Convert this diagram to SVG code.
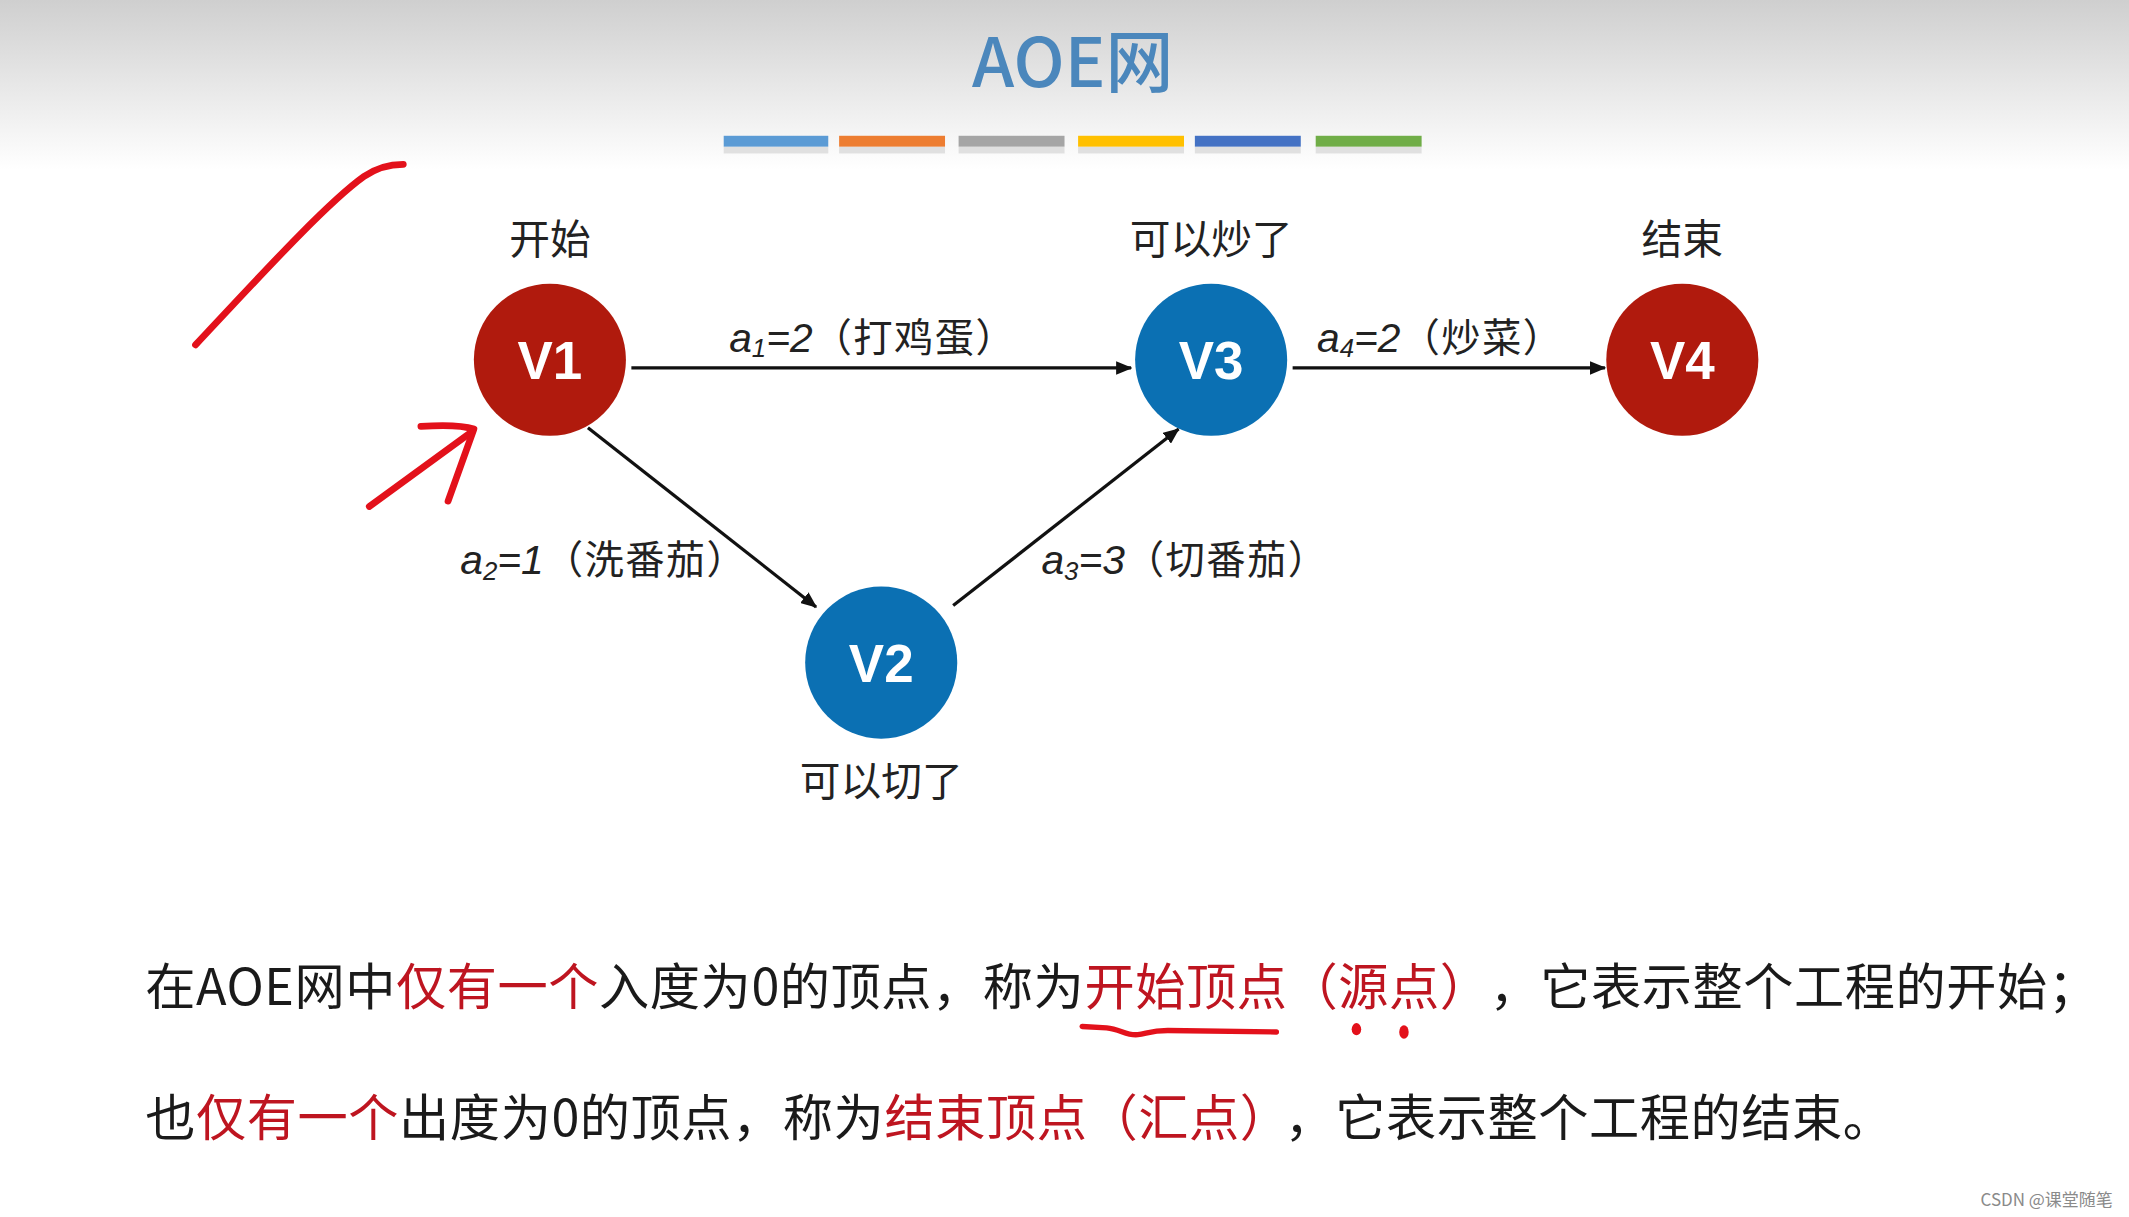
<svg xmlns="http://www.w3.org/2000/svg" width="2129" height="1217" viewBox="0 0 2129 1217">
<style>
.cjk{font-family:"Noto Sans CJK SC","Noto Sans",sans-serif;}
.lbl{font-family:"Noto Sans CJK SC","Noto Sans",sans-serif;font-size:30px;fill:#222;text-anchor:middle;}
.vt{font-family:"Liberation Sans","Noto Sans",sans-serif;font-size:39px;font-weight:bold;fill:#fff;text-anchor:middle;}
.el{font-family:"Liberation Sans","Noto Sans CJK SC",sans-serif;font-size:30px;fill:#222;}
.it{font-style:italic;}
.sub{font-size:19px;font-style:italic;}
.zh{font-family:"Noto Sans CJK SC",sans-serif;font-style:normal;font-size:29px;letter-spacing:1px;}
.edge{stroke:#111;stroke-width:2.4;fill:none;marker-end:url(#arr);}
.red{fill:#b01a0d;}
.blue{fill:#0b70b3;}
.body{font-family:"Noto Sans CJK SC","Noto Sans",sans-serif;font-size:37px;fill:#1a1a1a;letter-spacing:0.4px;}
.r{fill:#be1520;}
.pen{stroke:#e3111b;fill:none;stroke-linecap:round;stroke-linejoin:round;}
</style>
<defs>
<linearGradient id="hdr" x1="0" y1="0" x2="0" y2="1">
<stop offset="0" stop-color="#cfcfcf"/>
<stop offset="0.6" stop-color="#ececec"/>
<stop offset="1" stop-color="#ffffff"/>
</linearGradient>
<marker id="arr" viewBox="0 0 12 10" refX="11" refY="5" markerWidth="12" markerHeight="10" markerUnits="userSpaceOnUse" orient="auto">
<path d="M0,0 L12,5 L0,10 z" fill="#111"/>
</marker>
</defs>
<rect width="2129" height="1217" fill="#fff"/>
<g transform="scale(1.3578)">
<rect x="0" y="0" width="1568" height="125" fill="url(#hdr)"/>
<text x="790" y="64" class="cjk" font-size="50" font-weight="500" fill="#4b87bc" text-anchor="middle">AOE网</text>
<g id="bars">
<rect x="533" y="108" width="77" height="5" fill="#cfcfcf" opacity="0.6"/>
<rect x="618" y="108" width="78" height="5" fill="#cfcfcf" opacity="0.6"/>
<rect x="706" y="108" width="78" height="5" fill="#cfcfcf" opacity="0.6"/>
<rect x="794" y="108" width="78" height="5" fill="#cfcfcf" opacity="0.6"/>
<rect x="880" y="108" width="78" height="5" fill="#cfcfcf" opacity="0.6"/>
<rect x="969" y="108" width="78" height="5" fill="#cfcfcf" opacity="0.6"/>
<rect x="533" y="100" width="77" height="8" fill="#5b9bd5"/>
<rect x="618" y="100" width="78" height="8" fill="#ed7d31"/>
<rect x="706" y="100" width="78" height="8" fill="#a5a5a5"/>
<rect x="794" y="100" width="78" height="8" fill="#ffc000"/>
<rect x="880" y="100" width="78" height="8" fill="#4472c4"/>
<rect x="969" y="100" width="78" height="8" fill="#70ad47"/>
</g>
<g id="connectors">
<line class="edge" x1="465" y1="271" x2="833" y2="271"/>
<line class="edge" x1="952" y1="271" x2="1182" y2="271"/>
<line class="edge" x1="433" y1="315" x2="601" y2="447"/>
<line class="edge" x1="702" y1="446" x2="868" y2="316"/>
<text class="el" x="537" y="259"><tspan class="it">a</tspan><tspan class="sub" dy="4">1</tspan><tspan class="it" dy="-4">=2</tspan><tspan class="zh">（打鸡蛋）</tspan></text>
<text class="el" x="970" y="259"><tspan class="it">a</tspan><tspan class="sub" dy="4">4</tspan><tspan class="it" dy="-4">=2</tspan><tspan class="zh">（炒菜）</tspan></text>
<text class="el" x="339" y="423"><tspan class="it">a</tspan><tspan class="sub" dy="4">2</tspan><tspan class="it" dy="-4">=1</tspan><tspan class="zh">（洗番茄）</tspan></text>
<text class="el" x="767" y="423"><tspan class="it">a</tspan><tspan class="sub" dy="4">3</tspan><tspan class="it" dy="-4">=3</tspan><tspan class="zh">（切番茄）</tspan></text>
</g>
<g id="V1">
<circle class="red" cx="405" cy="265" r="56"/>
<text class="vt" x="405" y="279">V1</text>
<text class="lbl" x="405" y="187">开始</text>
</g>
<g id="V2">
<circle class="blue" cx="649" cy="488" r="56"/>
<text class="vt" x="649" y="502">V2</text>
<text class="lbl" x="649" y="586">可以切了</text>
</g>
<g id="V3">
<circle class="blue" cx="892" cy="265" r="56"/>
<text class="vt" x="892" y="279">V3</text>
<text class="lbl" x="892" y="187">可以炒了</text>
</g>
<g id="V4">
<circle class="red" cx="1239" cy="265" r="56"/>
<text class="vt" x="1239" y="279">V4</text>
<text class="lbl" x="1239" y="187">结束</text>
</g>
<g id="ink">
<path class="pen" stroke-width="5" d="M144,254 C190,205 240,150 268,130 C278,123 288,121 297,121"/>
<path class="pen" stroke-width="5" d="M272,373 L346,319"/>
<path class="pen" stroke-width="5" d="M310,314 C325,313 340,313 349,316 L330,369"/>
<path class="pen" stroke-width="4" d="M797,756 L815,757 C825,758 830,763 838,762 C845,761 848,759 860,759 L940,760"/>
<ellipse cx="999" cy="758" rx="3.5" ry="4.5" fill="#e3111b"/>
<ellipse cx="1034" cy="760" rx="3.5" ry="5" fill="#e3111b"/>
</g>
<text class="body" x="107" y="740">在AOE网中<tspan class="r">仅有一个</tspan>入度为0的顶点，称为<tspan class="r">开始顶点（源点）</tspan></text>
<text class="body" x="1097" y="740">，它表示整个工程的开始；</text>
<text class="body" x="107" y="837">也<tspan class="r">仅有一个</tspan>出度为0的顶点，称为<tspan class="r">结束顶点（汇点）</tspan></text>
<text class="body" x="946" y="837">，它表示整个工程的结束。</text>
<text class="cjk" x="1556" y="888" font-size="12.5" fill="#8a8a8a" text-anchor="end">CSDN @课堂随笔</text>
</g>
</svg>
